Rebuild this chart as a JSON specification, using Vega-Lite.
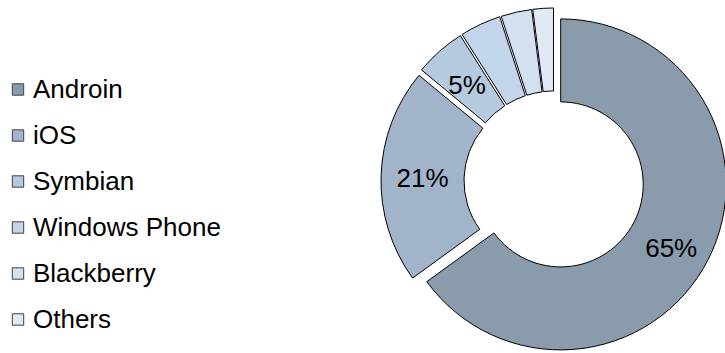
{
  "$schema": "https://vega.github.io/schema/vega-lite/v6.json",
  "width": 336,
  "height": 344,
  "autosize": {"type": "none"},
  "padding": {"left": 386, "top": 9, "right": 3, "bottom": 0},
  "background": "white",
  "config": {"view": {"stroke": null}, "font": "Liberation Sans"},
  "data": {
    "values": [
      {"os": "Androin", "share": 0.65},
      {"os": "iOS", "share": 0.21},
      {"os": "Symbian", "share": 0.05},
      {"os": "Windows Phone", "share": 0.04},
      {"os": "Blackberry", "share": 0.03},
      {"os": "Others", "share": 0.02}
    ]
  },
  "encoding": {
    "theta": {"field": "share", "type": "quantitative", "stack": true, "scale": {"domain": [0, 1]}},
    "order": {"field": "share", "type": "quantitative", "sort": "descending"},
    "color": {
      "field": "os",
      "type": "nominal",
      "scale": {
        "domain": ["Androin", "iOS", "Symbian", "Windows Phone", "Blackberry", "Others"],
        "range": ["#8a9bab", "#a2b4c9", "#b5c9df", "#c3d5ea", "#d3e0f0", "#e1e9f4"]
      },
      "legend": {
        "orient": "none",
        "legendX": -381,
        "legendY": 67.5,
        "title": null,
        "padding": 0,
        "symbolType": "square",
        "symbolSize": 130,
        "symbolStrokeColor": "#404040",
        "symbolStrokeWidth": 1,
        "symbolOpacity": 1,
        "symbolFillOpacity": 1,
        "labelFont": "Liberation Sans",
        "labelFontSize": 26,
        "labelColor": "#000000",
        "labelOffset": 2,
        "rowPadding": 20,
        "labelLimit": 400
      }
    }
  },
  "layer": [
    {
      "mark": {"type": "arc", "outerRadius": 165.5, "innerRadius": 82.5, "stroke": "#000000", "strokeWidth": 1, "xOffset": 6.7, "yOffset": 3.4},
      "encoding": {"opacity": {"condition": {"test": "datum.os === 'Androin'", "value": 1}, "value": 0}}
    },
    {
      "mark": {"type": "arc", "outerRadius": 165.5, "innerRadius": 82.5, "stroke": "#000000", "strokeWidth": 1, "xOffset": -7.5, "yOffset": -0.2},
      "encoding": {"opacity": {"condition": {"test": "datum.os === 'iOS'", "value": 1}, "value": 0}}
    },
    {
      "mark": {"type": "arc", "outerRadius": 165.5, "innerRadius": 82.5, "stroke": "#000000", "strokeWidth": 1, "xOffset": -5, "yOffset": -5.6},
      "encoding": {"opacity": {"condition": {"test": "datum.os === 'Symbian'", "value": 1}, "value": 0}}
    },
    {
      "mark": {"type": "arc", "outerRadius": 165.5, "innerRadius": 82.5, "stroke": "#000000", "strokeWidth": 1, "xOffset": -3.2, "yOffset": -6.8},
      "encoding": {"opacity": {"condition": {"test": "datum.os === 'Windows Phone'", "value": 1}, "value": 0}}
    },
    {
      "mark": {"type": "arc", "outerRadius": 165.5, "innerRadius": 82.5, "stroke": "#000000", "strokeWidth": 1, "xOffset": -1.6, "yOffset": -7.3},
      "encoding": {"opacity": {"condition": {"test": "datum.os === 'Blackberry'", "value": 1}, "value": 0}}
    },
    {
      "mark": {"type": "arc", "outerRadius": 165.5, "innerRadius": 82.5, "stroke": "#000000", "strokeWidth": 1, "xOffset": -0.5, "yOffset": -7.5},
      "encoding": {"opacity": {"condition": {"test": "datum.os === 'Others'", "value": 1}, "value": 0}}
    },
    {
      "mark": {"type": "text", "radius": 124, "font": "Liberation Sans", "fontSize": 26, "xOffset": 6.7, "yOffset": 3.4, "dy": 8},
      "encoding": {
        "color": {"value": "#000000"},
        "text": {"condition": {"test": "datum.os === 'Androin'", "field": "share", "type": "quantitative", "format": ".0%"}, "value": ""}
      }
    },
    {
      "mark": {"type": "text", "radius": 124, "font": "Liberation Sans", "fontSize": 26, "xOffset": -7.5, "yOffset": -0.2, "dy": 2},
      "encoding": {
        "color": {"value": "#000000"},
        "text": {"condition": {"test": "datum.os === 'iOS'", "field": "share", "type": "quantitative", "format": ".0%"}, "value": ""}
      }
    },
    {
      "mark": {"type": "text", "radius": 124, "font": "Liberation Sans", "fontSize": 26, "xOffset": -5, "yOffset": -5.6, "dy": 4},
      "encoding": {
        "color": {"value": "#000000"},
        "text": {"condition": {"test": "datum.os === 'Symbian'", "field": "share", "type": "quantitative", "format": ".0%"}, "value": ""}
      }
    }
  ]
}
